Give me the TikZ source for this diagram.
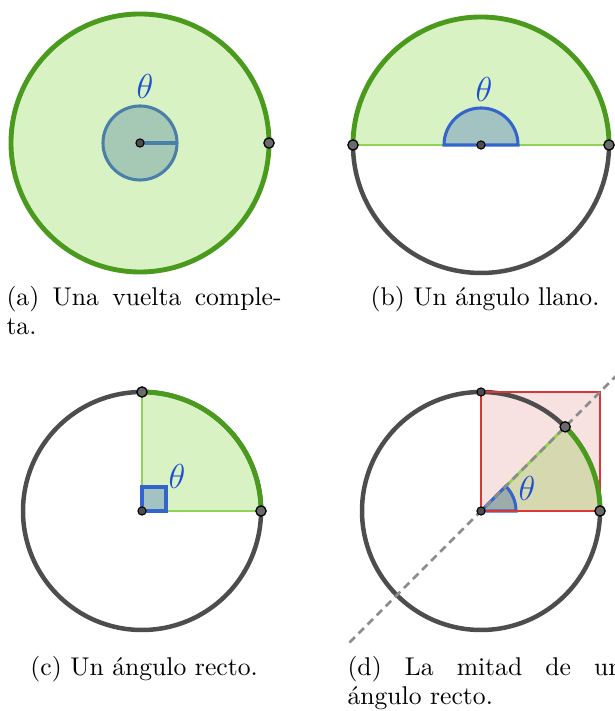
\documentclass[tikz,border=0pt]{standalone}
\usepackage{fix-cm}
\usepackage{fontspec}
\usetikzlibrary{calc}
\definecolor{gfill}{HTML}{D9F2C3}
\definecolor{gline}{HTML}{4A9A1E}
\definecolor{glight}{HTML}{8FD452}
\definecolor{dgray}{HTML}{4D4D4D}
\definecolor{afill}{HTML}{A3C2C2}
\definecolor{ablue}{HTML}{3366CC}
\definecolor{asteel}{HTML}{4A80A8}
\definecolor{afillA}{HTML}{A6C9B6}
\definecolor{rfill}{HTML}{F8E1E1}
\definecolor{rline}{HTML}{D93636}
\definecolor{ofill}{HTML}{D6D8AF}
\definecolor{wfill}{HTML}{9EABAB}
\definecolor{tblue}{HTML}{1F4FD0}
\definecolor{ptgray}{HTML}{6B6B6B}
\definecolor{dashgray}{HTML}{8C8C8C}
\begin{document}
\begin{tikzpicture}[x=0.39pt,y=0.39pt,
  circ/.style={draw=dgray,line width=1.75pt},
  garc/.style={draw=gline,line width=1.9pt},
  gthin/.style={draw=glight,line width=1pt},
  ang/.style={fill=afill,draw=ablue,line width=1.2pt},
  pt/.style={circle,fill=ptgray,draw=black,line width=0.5pt,inner sep=0pt,minimum size=4pt},
  ctr/.style={circle,fill=dgray,draw=black,line width=0.4pt,inner sep=0pt,minimum size=3.2pt},
  lab/.style={text=tblue,font=\fontsize{13.5}{15}\selectfont,inner sep=0pt},
  captext/.style={anchor=base west,text width=107.3pt,inner sep=0pt,font=\fontsize{10}{11}\selectfont},
]
\useasboundingbox (0,0) rectangle (614,711);
% ---------- (a)
\coordinate (A) at (140,568);
\filldraw[fill=gfill,garc] (A) circle[radius=129];
\filldraw[fill=afillA,draw=asteel,line width=1.2pt] (A) circle[radius=37];
\draw[draw=asteel,line width=1.6pt] (A) -- ++(37,0);
\node[pt] (a1) at ($(A)+(129,0)$) {};
\node[ctr] (a0) at (A) {};
\node[lab] (ta) at (145,625) {$\theta$};
% ---------- (b)
\coordinate (B) at (481,566);
\fill[gfill] (B) ++(128,0) arc[start angle=0,end angle=180,radius=128] -- cycle;
\draw[circ] (B) ++(-128,0) arc[start angle=180,end angle=360,radius=128];
\draw[garc] (B) ++(128,0) arc[start angle=0,end angle=180,radius=128];
\draw[gthin] (B) ++(-128,0) -- ++(256,0);
\filldraw[ang] (B) ++(37,0) arc[start angle=0,end angle=180,radius=37] -- cycle;
\node[pt] (b1) at ($(B)+(-128,0)$) {};
\node[pt] (b2) at ($(B)+(128,0)$) {};
\node[ctr] (b0) at (B) {};
\node[lab] (tb) at (484,622) {$\theta$};
% ---------- (c)
\coordinate (C) at (142,200);
\fill[gfill] (C) -- ++(119,0) arc[start angle=0,end angle=90,radius=119] -- cycle;
\draw[circ] (C) circle[radius=119];
\draw[gthin] ($(C)+(0,119)$) -- (C) -- ++(119,0);
\draw[garc] (C) ++(119,0) arc[start angle=0,end angle=90,radius=119];
\filldraw[ang] (C) rectangle ++(24,24);
\node[pt] (c1) at ($(C)+(0,119)$) {};
\node[pt] (c2) at ($(C)+(119,0)$) {};
\node[ctr] (c0) at (C) {};
\node[lab] (tc) at (177,235) {$\theta$};
% ---------- (d)
\coordinate (D) at (481,200);
\fill[rfill] (D) rectangle ++(119,119);
\draw[circ] (D) circle[radius=119];
\fill[ofill] (D) -- ++(119,0) arc[start angle=0,end angle=45,radius=119] -- cycle;
\draw[rline,line width=0.6pt] (D) rectangle ++(119,119);
\draw[gthin] (D) -- ++(45:119);
\filldraw[fill=wfill,draw=ablue,line width=1.2pt] (D) -- ++(35,0) arc[start angle=0,end angle=45,radius=35] -- cycle;
\draw[rline,line width=0.6pt] (D) -- ++(119,0);
\draw[garc] (D) ++(119,0) arc[start angle=0,end angle=45,radius=119];
\draw[dashgray,line width=1pt,dash pattern=on 3pt off 2pt] ($(D)+(225:186)$) -- ($(D)+(45:200)$);
\node[ctr] (d1) at ($(D)+(0,119)$) {};
\node[pt] (d2) at ($(D)+(45:119)$) {};
\node[pt] (d3) at ($(D)+(119,0)$) {};
\node[ctr] (d0) at (D) {};
\node[lab] (td) at (527,223) {$\theta$};
% ---------- captions
\node[captext,align=justify] (capa) at (6,405) {(a) Una vuelta comple-\linebreak ta.};
\node[captext,align=center] (capb) at (347,405) {(b) Un ángulo llano.};
\node[captext,align=center] (capc) at (6,35) {(c) Un ángulo recto.};
\node[captext,align=justify] (capd) at (347,35) {(d) La mitad de un\linebreak ángulo recto.};
\end{tikzpicture}
\end{document}
